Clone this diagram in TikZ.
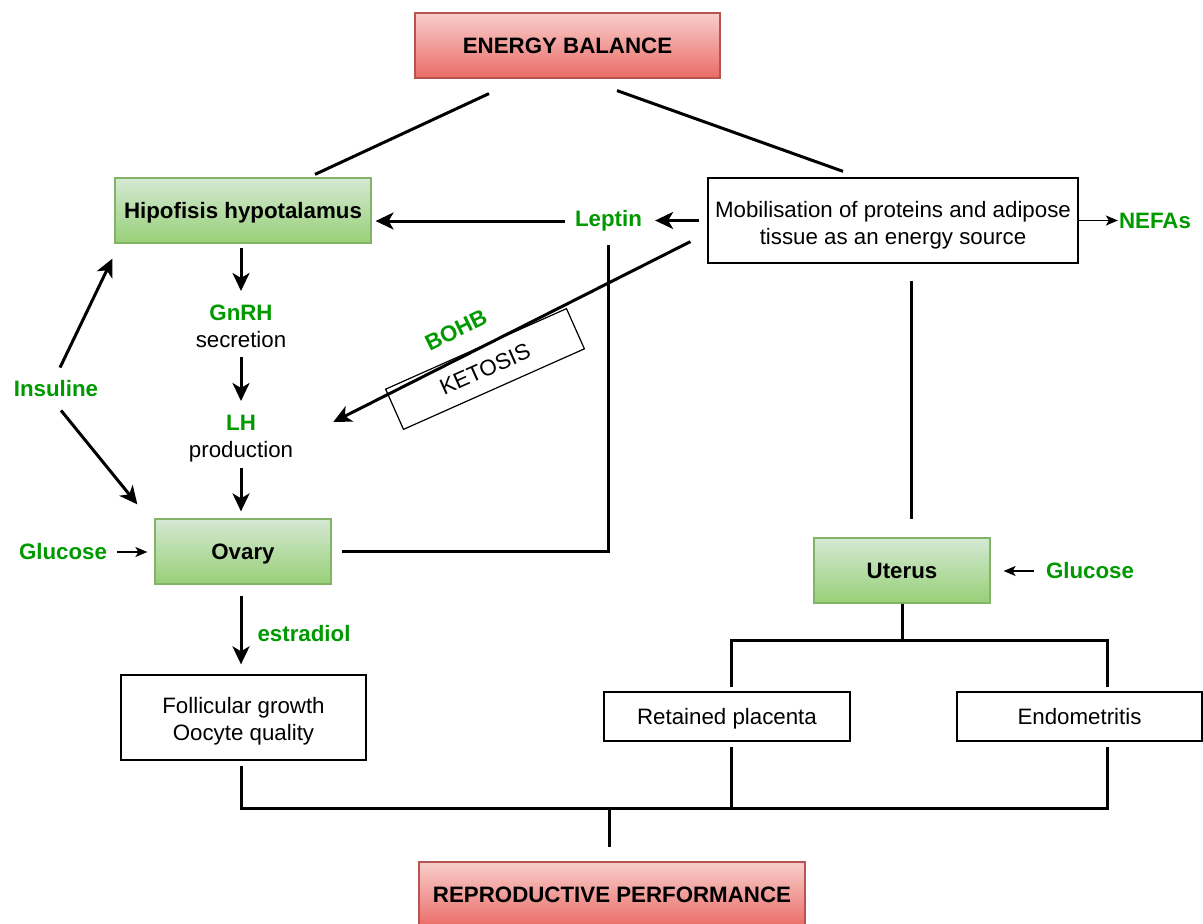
\documentclass[tikz,border=0pt]{standalone}
\usepackage{fontspec}
\setmainfont{Liberation Sans}
\usetikzlibrary{arrows.meta,calc}
\definecolor{redtop}{HTML}{F8CECC}
\definecolor{redbot}{HTML}{EA6B66}
\definecolor{redborder}{HTML}{B85450}
\definecolor{greentop}{HTML}{D5E8D4}
\definecolor{greenbot}{HTML}{97D077}
\definecolor{greenborder}{HTML}{82B366}
\definecolor{textgreen}{HTML}{009900}
\newcommand{\dn}[2]{\raisebox{-#1}[\height][\depth]{#2}}
\begin{document}
\begin{tikzpicture}[x=1pt,y=-1pt,
  every node/.style={font=\fontsize{22.3}{27}\selectfont},
  oneline/.style={text height=16pt, text depth=0pt},
  greenbox/.style={oneline, draw=greenborder, line width=1.2pt, top color=greentop, bottom color=greenbot,
    minimum width=176pt, minimum height=65pt, font=\fontsize{22.3}{27}\selectfont\bfseries},
  redbox/.style={oneline, draw=redborder, line width=1.2pt, top color=redtop, bottom color=redbot,
    minimum height=65pt, font=\fontsize{22.3}{27}\selectfont\bfseries},
  whitebox/.style={draw=black, line width=1.3pt, fill=white, align=center},
  lbl/.style={text=textgreen, font=\fontsize{22.3}{27}\selectfont\bfseries, inner sep=0pt},
  txt/.style={align=center, inner sep=0pt},
  conn/.style={line width=3pt},
  arr/.style={conn, -{Stealth[length=18pt,width=17pt,inset=5pt]}},
  tarr/.style={line width=1.5pt, -{Stealth[length=12pt,width=10pt,inset=3pt]}},
]
\clip (0,0) rectangle (1203,924);
\fill[white] (0,0) rectangle (1203,924);

% nodes
\node[redbox, minimum width=305pt] (eb) at (567.5,45.5) {ENERGY BALANCE};
\node[greenbox, minimum width=256pt] (hh) at (243,210.5) {Hipofisis hypotalamus};
\node[whitebox, minimum width=370pt, minimum height=85pt] (mob) at (893,220.5)
  {\dn{4.5pt}{Mobilisation of proteins and adipose}\\\dn{4.5pt}{tissue as an energy source}};
\node[lbl] (nefa) at (1155,221) {NEFAs};
\node[lbl] (leptin) at (608.5,221) {Leptin};
\node[txt, anchor=north] (gnrh) at (241,305) {\textcolor{textgreen}{\bfseries GnRH}\\secretion};
\node[txt, anchor=north] (lh) at (241,415) {\textcolor{textgreen}{\bfseries LH}\\production};
\node[greenbox] (ov) at (243,551.5) {Ovary};
\node[lbl] (glcL) at (63,552) {Glucose};
\node[lbl] (ins) at (56,389) {Insuline};
\node[lbl] (estr) at (304,634) {estradiol};
\node[whitebox, minimum width=245pt, minimum height=85pt] (fol) at (243.5,717.5)
  {\dn{3.5pt}{Follicular growth}\\\dn{3.5pt}{Oocyte quality}};
\node[draw, line width=1.2pt, fill=white, minimum width=198pt, minimum height=44pt, rotate=24]
  (ket) at (485,369) {KETOSIS};
\node[lbl, rotate=26] (bohb) at (456,330) {BOHB};
\node[greenbox] (ut) at (902,570.5) {Uterus};
\node[lbl] (glcR) at (1090,571) {Glucose};
\node[whitebox, oneline, minimum width=246pt, minimum height=49pt] (rp) at (727,716.5) {Retained placenta};
\node[whitebox, oneline, minimum width=245pt, minimum height=49pt] (endo) at (1079.5,716.5) {Endometritis};
\node[redbox, minimum width=386pt] (rep) at (612,894.5) {REPRODUCTIVE PERFORMANCE};

% connectors from energy balance
\draw[conn] ($(eb.south)+(-78.5,15)$) -- ($(hh.north)+(72,-3)$);
\draw[conn] ($(eb.south)+(49.5,12)$) -- ($(mob.north)+(-50,-6)$);

% leptin
\draw[arr, shorten <=8pt, shorten >=13pt] (mob.west) -- (mob.west -| leptin.east);
\draw[arr, shorten <=10pt, shorten >=4pt] (leptin.west) -- (leptin.west -| hh.east);
\draw[conn, shorten <=13pt, shorten >=10pt] (leptin.south) |- (ov.east);

% NEFAs
\draw[tarr, shorten >=1pt] (mob.east) -- (mob.east -| nefa.west);

% hypothalamus chain
\draw[arr, shorten <=4pt, shorten >=14pt] (gnrh.north |- hh.south) -- (gnrh.north);
\draw[arr, shorten <=9pt, shorten >=14pt] (gnrh.south) -- (lh.north);
\draw[arr, shorten <=6pt, shorten >=7pt] (lh.south) -- (lh.south |- ov.north);
\draw[arr, shorten <=11pt, shorten >=10pt] (ov.south -| lh.south) -- (lh.south |- fol.north);

% glucose & insuline
\draw[tarr, shorten <=10pt, shorten >=7pt] (glcL.east) -- (glcL.east -| ov.west);
\draw[arr] ($(ins.north)+(4,-13)$) -- ($(hh.south west)+(-2,15)$);
\draw[arr] ($(ins.south)+(5,13)$) -- ($(ov.north west)+(-17,-14)$);

% ketosis
\draw[arr] ($(mob.south west)+(-17,-22)$) -- ($(lh.north east)+(40,7)$);

% uterus
\draw[conn] ($(mob.south)+(18,17)$) -- ($(ut.north)+(9,-18)$);
\draw[tarr, shorten <=12pt, shorten >=13pt] (glcR.west) -- (glcR.west -| ut.east);
\coordinate (ub) at ($(ut.south)+(0,37)$);
\coordinate (rpT) at ($(rp.north)+(4,-4)$);
\coordinate (endoT) at ($(endo.north)+(27.5,-4)$);
\draw[conn] (ut.south) -- (ub);
\draw[conn] (rpT) -- (rpT |- ub) -- (endoT |- ub) -- (endoT);

% bottom tree
\coordinate (bb) at ($(rep.north)+(-3,-53)$);
\coordinate (folB) at ($(fol.south)+(-2.5,5)$);
\coordinate (rpB) at ($(rp.south)+(4,5)$);
\coordinate (endoB) at ($(endo.south)+(27.5,5)$);
\draw[conn] (folB) -- (folB |- bb) -- (endoB |- bb) -- (endoB);
\draw[conn] (rpB) -- (rpB |- bb);
\draw[conn] (bb) -- ($(rep.north)+(-3,-14)$);
\end{tikzpicture}
\end{document}
